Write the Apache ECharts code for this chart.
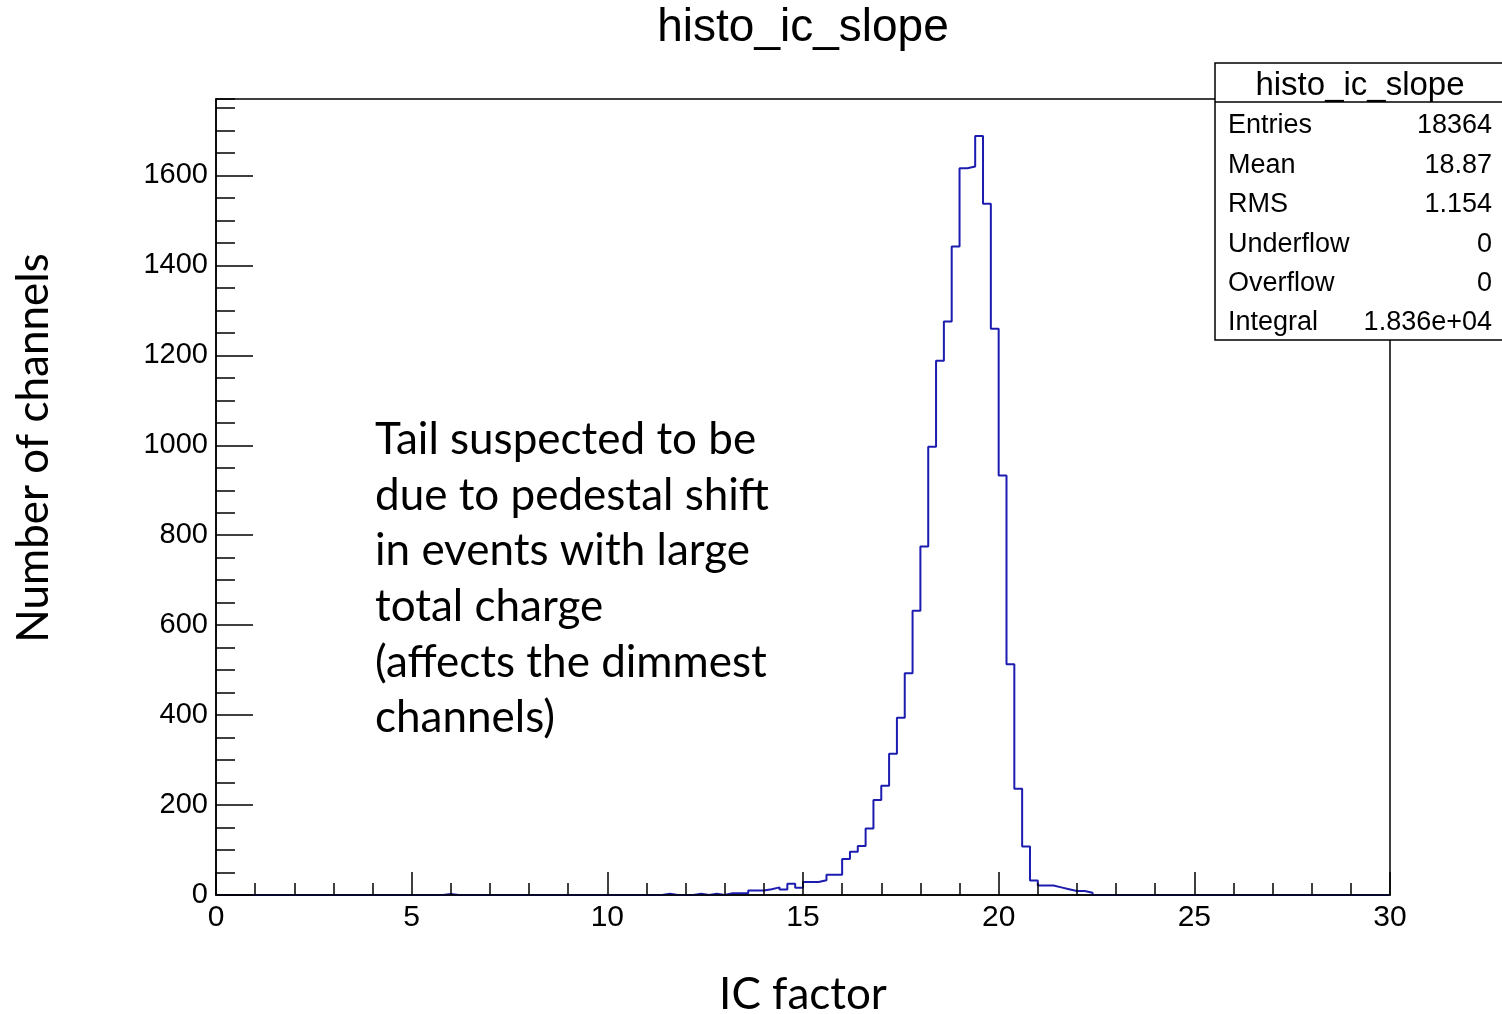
<!DOCTYPE html>
<html>
<head>
<meta charset="utf-8">
<script src="https://cdn.jsdelivr.net/npm/echarts@6/dist/echarts.min.js"></script>
<style>
  html, body { margin: 0; padding: 0; background: #fff; }
  #maindiv { width: 1502px; height: 1014px; }
</style>
</head>
<body>
<div id="maindiv"></div>
<script>
// histogram: 150 bins of width 0.2 from 0 to 30
var xMin = 0, xMax = 30, binWidth = 0.2;
var counts = [
    0, 0, 0, 0, 0, 0, 0, 0, 0, 0,
    0, 0, 0, 0, 0, 0, 0, 0, 0, 0,
    0, 0, 0, 0, 0, 0, 0, 0, 0, 2,
    0, 0, 0, 0, 0, 0, 0, 0, 0, 0,
    0, 0, 0, 0, 0, 0, 0, 0, 0, 0,
    0, 0, 0, 0, 0, 0, 0, 3, 0, 0,
    0, 3, 0, 3, 0, 4, 4, 4, 10, 10,
    13, 17, 12, 25, 16, 29, 29, 33, 45, 45,
    80, 96, 109, 148, 211, 243, 314, 394, 493, 632,
    775, 997, 1188, 1275, 1442, 1616, 1620, 1688, 1537, 1259,
    933, 513, 236, 108, 32, 21, 21, 17, 13, 9,
    9, 5, 0, 0, 0, 0, 0, 0, 0, 0,
    0, 0, 0, 0, 0, 0, 0, 0, 0, 0,
    0, 0, 0, 0, 0, 0, 0, 0, 0, 0,
    0, 0, 0, 0, 0, 0, 0, 0, 0, 0
];
var yMax = 1770;
var titleText = 'histo_ic_slope';
var xAxisName = 'IC factor';
var yAxisName = 'Number of channels';
var statNames = ['Entries', 'Mean', 'RMS', 'Underflow', 'Overflow', 'Integral'];
var statValues = ['18364', '18.87', '1.154', '0', '0', '1.836e+04'];
var noteLines = [
    'Tail suspected to be',
    'due to pedestal shift',
    'in events with large',
    'total charge',
    '(affects the dimmest',
    'channels)'
];

var rootFont = "'Liberation Sans', Arial, sans-serif";
var noteFont = "Lato, 'Open Sans', sans-serif";

// step line points at the bin low edges, plus the last upper edge
var histData = [];
for (var i = 0; i < counts.length; i++) {
    histData.push([+(xMin + i * binWidth).toFixed(1), counts[i]]);
}
histData.push([xMax, counts[counts.length - 1]]);

var graphics = [];
// main title, centred over the frame
graphics.push({
    type: 'text', z: 50, x: 803, y: 28,
    style: { text: titleText, font: '46px ' + rootFont, fill: '#000', align: 'center', verticalAlign: 'middle' }
});
// stats box
graphics.push({
    type: 'rect', z: 100,
    shape: { x: 1215, y: 63, width: 300, height: 277 },
    style: { fill: '#fff', stroke: '#000', lineWidth: 1.5 }
});
graphics.push({
    type: 'line', z: 101,
    shape: { x1: 1215, y1: 102, x2: 1502, y2: 102 },
    style: { stroke: '#000', lineWidth: 1.5 }
});
graphics.push({
    type: 'text', z: 101, x: 1360, y: 86,
    style: { text: titleText, font: '33px ' + rootFont, fill: '#000', align: 'center', verticalAlign: 'middle' }
});
for (var s = 0; s < statNames.length; s++) {
    graphics.push({
        type: 'text', z: 101, x: 1228, y: 126 + s * 39.4,
        style: { text: statNames[s], font: '27px ' + rootFont, fill: '#000', align: 'left', verticalAlign: 'middle' }
    });
    graphics.push({
        type: 'text', z: 101, x: 1492, y: 126 + s * 39.4,
        style: { text: statValues[s], font: '27px ' + rootFont, fill: '#000', align: 'right', verticalAlign: 'middle' }
    });
}
// annotation
for (var n = 0; n < noteLines.length; n++) {
    graphics.push({
        type: 'text', z: 50, x: 375, y: 440 + n * 55.6,
        style: { text: noteLines[n], font: '44px ' + noteFont, fill: '#000', align: 'left', verticalAlign: 'middle' }
    });
}
// axis titles
graphics.push({
    type: 'text', z: 50, x: 34, y: 448, rotation: Math.PI / 2,
    style: { text: yAxisName, font: '44px ' + noteFont, fill: '#000', align: 'center', verticalAlign: 'middle' }
});
graphics.push({
    type: 'text', z: 50, x: 803, y: 995,
    style: { text: xAxisName, font: '44px ' + noteFont, fill: '#000', align: 'center', verticalAlign: 'middle' }
});

var option = {
    animation: false,
    backgroundColor: '#fff',
    grid: {
        left: 216, right: 112, top: 99, bottom: 119,
        show: true, borderColor: '#000', borderWidth: 1.5, backgroundColor: 'transparent'
    },
    xAxis: {
        type: 'value', min: xMin, max: xMax, interval: 5, z: 5,
        axisLine: { show: true, onZero: false, lineStyle: { color: '#000', width: 1.5 } },
        axisTick: { show: true, inside: true, length: 23, lineStyle: { color: '#000', width: 1.5 } },
        minorTick: { show: true, splitNumber: 5, length: 12, lineStyle: { color: '#000', width: 1.5 } },
        axisLabel: { fontFamily: rootFont, fontSize: 30, color: '#000', margin: 8 },
        splitLine: { show: false }
    },
    yAxis: [{
        type: 'value', min: 0, max: yMax, interval: 200, z: 5,
        axisLine: { show: true, lineStyle: { color: '#000', width: 1.5 } },
        axisTick: { show: true, inside: true, length: 37, lineStyle: { color: '#000', width: 1.5 } },
        axisLabel: {
            fontFamily: rootFont, fontSize: 29, color: '#000', margin: 8, showMaxLabel: false,
            formatter: function (v) { return String(v); }
        },
        splitLine: { show: false }
    }, {
        type: 'value', min: 0, max: yMax, interval: 50, position: 'left', z: 5,
        axisLine: { show: false },
        axisTick: { show: true, inside: true, length: 19, lineStyle: { color: '#000', width: 1.5 } },
        axisLabel: { show: false },
        splitLine: { show: false }
    }],
    series: [{
        name: titleText,
        type: 'line',
        step: 'end',
        showSymbol: false,
        symbol: 'none',
        data: histData,
        lineStyle: { color: '#1c1cb0', width: 2 },
        z: 2
    }],
    graphic: graphics
};

var maindata1 = echarts.init(document.getElementById('maindiv'));
maindata1.setOption(option);
</script>
</body>
</html>
